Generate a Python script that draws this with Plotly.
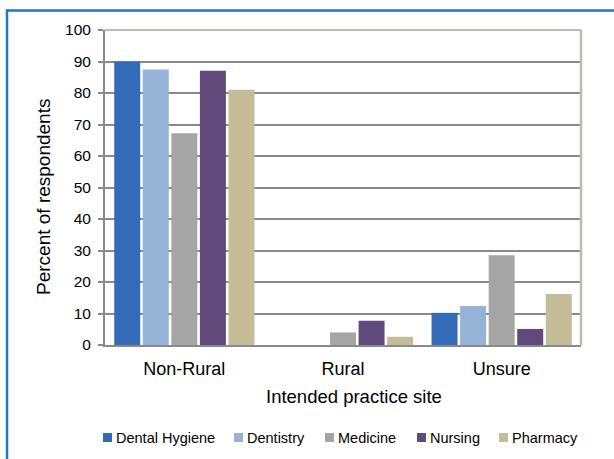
import plotly.graph_objects as go

# Survey results: intended practice site by discipline (percent of respondents)
sites = ["Non-Rural", "Rural", "Unsure"]
disciplines = ["Dental Hygiene", "Dentistry", "Medicine", "Nursing", "Pharmacy"]

dental_hygiene = [90.0, 0.0, 10.2]
dentistry = [87.5, 0.0, 12.4]
medicine = [67.2, 4.0, 28.5]
nursing = [87.1, 7.7, 5.1]
pharmacy = [81.0, 2.6, 16.2]

series_values = [dental_hygiene, dentistry, medicine, nursing, pharmacy]
colors = ["#346bb8", "#95b3d7", "#a5a5a5", "#604a7b", "#c4bd97"]

y_ticks = list(range(0, 101, 10))

W, H = 614, 459
M_L, M_R, M_T, M_B = 105, 33, 30, 114
plot_w = W - M_L - M_R
plot_h = H - M_T - M_B


def px_x(p):
    return (p - M_L) / plot_w


def px_y(p):
    return (H - M_B - p) / plot_h


fig = go.Figure()
for name, vals, col in zip(disciplines, series_values, colors):
    fig.add_trace(go.Bar(
        x=sites, y=vals, name=name,
        marker=dict(color=col, line=dict(width=0)),
        showlegend=False,
    ))

sans = "Liberation Sans, Arial, sans-serif"
axis_font = dict(family=sans, size=15.5, color="#000000")

shapes = [
    # plot frame, top and right edges
    dict(type="line", xref="paper", yref="paper", x0=0, x1=1, y0=1, y1=1,
         line=dict(color="#bcbcae", width=2), layer="above"),
    dict(type="line", xref="paper", yref="paper", x0=1, x1=1, y0=0, y1=1,
         line=dict(color="#bcbcae", width=2.5), layer="above"),
    # outer blue frame
    dict(type="rect", xref="paper", yref="paper",
         x0=px_x(7), x1=px_x(640), y0=px_y(10.5), y1=px_y(500),
         line=dict(color="#1a78c9", width=2.5), fillcolor="rgba(0,0,0,0)",
         layer="below"),
]

annotations = [
    # axis titles
    dict(xref="paper", yref="paper", x=px_x(354), y=px_y(396),
         xanchor="center", yanchor="middle", showarrow=False,
         text="Intended practice site",
         font=dict(family=sans, size=18.5, color="#000000")),
    dict(xref="paper", yref="paper", x=px_x(43), y=px_y(197),
         xanchor="center", yanchor="middle", showarrow=False, textangle=-90,
         text="Percent of respondents",
         font=dict(family=sans, size=19, color="#000000")),
]

# legend row along the bottom: swatch + label per discipline
legend_box_x = [103, 234, 325, 417, 499]
legend_y = 437.5
box = 9
for name, col, bx in zip(disciplines, colors, legend_box_x):
    shapes.append(dict(
        type="rect", xref="paper", yref="paper",
        x0=px_x(bx), x1=px_x(bx + box),
        y0=px_y(legend_y + box / 2), y1=px_y(legend_y - box / 2),
        fillcolor=col, line=dict(width=0), layer="above",
    ))
    annotations.append(dict(
        xref="paper", yref="paper", x=px_x(bx + box + 2), y=px_y(legend_y),
        xanchor="left", yanchor="middle", showarrow=False, text=name,
        font=dict(family=sans, size=14.5, color="#000000"),
    ))

fig.update_layout(
    width=W, height=H,
    margin=dict(l=M_L, r=M_R, t=M_T, b=M_B, pad=0),
    paper_bgcolor="#ffffff",
    plot_bgcolor="#ffffff",
    barmode="group",
    bargap=0.1,
    bargroupgap=0.09,
    showlegend=False,
    xaxis=dict(
        automargin=False,
        showline=True, linecolor="#8a8a8a", linewidth=2,
        ticks="", showgrid=False,
        ticklabelstandoff=6,
        tickfont=dict(family=sans, size=18, color="#000000"),
    ),
    yaxis=dict(
        automargin=False,
        range=[0, 100], tickvals=y_ticks,
        showline=True, linecolor="#8a8a8a", linewidth=2,
        ticks="outside", ticklen=5, tickwidth=2, tickcolor="#8a8a8a",
        ticklabelstandoff=4,
        showgrid=True, gridcolor="#8a8a8a", gridwidth=1.5,
        zeroline=False,
        tickfont=axis_font,
    ),
    shapes=shapes,
    annotations=annotations,
)

fig.write_html("out.html")
